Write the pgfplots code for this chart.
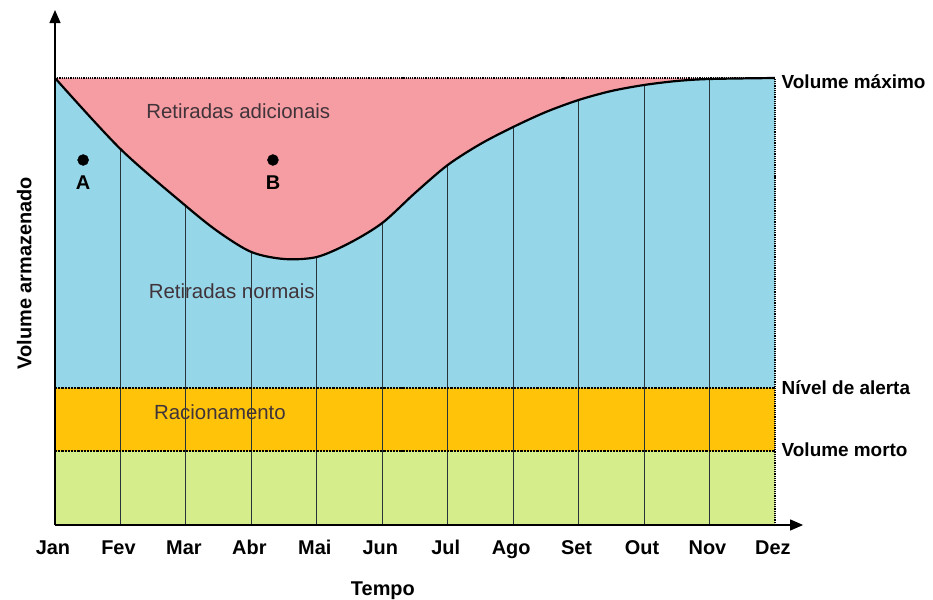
\documentclass[border=0pt]{standalone}
\usepackage{fontspec}
\setmainfont{Liberation Sans}
\usepackage{pgfplots}
\usepackage{pgfplotstable}
\pgfplotsset{compat=1.18}
\usetikzlibrary{arrows.meta}
\definecolor{pinkArea}{RGB}{245,157,162}
\definecolor{blueArea}{RGB}{150,214,233}
\definecolor{orangeArea}{RGB}{255,196,10}
\definecolor{greenArea}{RGB}{214,237,140}
\definecolor{innerText}{RGB}{64,52,58}
\definecolor{gridLine}{RGB}{40,52,58}
\newcommand{\lblbold}{\fontsize{20}{24}\bfseries\selectfont}
\newcommand{\sidebold}{\fontsize{19}{22}\bfseries\selectfont}
\newcommand{\lblreg}{\fontsize{20.5}{24}\selectfont}

% volume curve, months counted from Jan = 0
\pgfplotstableread{
x y
0 447
1 376
2 319
2.5 293
3 273
3.5 266
4 268
4.5 282
5 302
5.5 332
6 360
6.5 381
7 398
7.5 413
8 425
8.5 434
9 440
9.5 444
10 446
11 447
}\curve

\begin{document}
\begin{tikzpicture}
\useasboundingbox (-55bp,-75bp) rectangle (878bp,525bp);
\begin{axis}[x=65.45bp,y=1bp,xmin=0,xmax=11.43,ymin=0,ymax=515,
  at={(0,0)},anchor=south west,
  axis lines=left,axis on top,clip=false,
  axis line style={line width=1.2pt,-{Triangle[length=13bp,width=11bp]}},
  xtick={0,...,11},xticklabels={Jan,Fev,Mar,Abr,Mai,Jun,Jul,Ago,Set,Out,Nov,Dez},
  ytick=\empty,major tick length=0pt,
  xticklabel style={font=\lblbold,anchor=base,yshift=-29bp,xshift=-2bp}]
% zones, painted from top to bottom
\addplot[draw=none,fill=pinkArea] coordinates {(0,447) (11,447)} \closedcycle;
\addplot[draw=none,fill=blueArea,smooth,tension=0.5] table {\curve} \closedcycle;
\addplot[draw=none,fill=orangeArea] coordinates {(0,137) (11,137)} \closedcycle;
\addplot[draw=none,fill=greenArea] coordinates {(0,74) (11,74)} \closedcycle;
% month grid up to the curve
\addplot[ycomb,gridLine,line width=1pt,mark=none] coordinates {
  (1,376) (2,319) (3,273) (4,268) (5,302) (6,360) (7,398) (8,425) (9,440) (10,446)};
% limits
\addplot[densely dotted,line width=1.2pt,black] coordinates {(0,447) (11,447)};
\addplot[densely dotted,line width=2.2pt,black] coordinates {(0,137) (11,137)};
\addplot[densely dotted,line width=2.2pt,black] coordinates {(0,74) (11,74)};
\addplot[densely dotted,line width=1.2pt,black] coordinates {(11,0) (11,447)};
% volume curve
\addplot[black,line width=2.2pt,smooth,tension=0.5] table {\curve};
% points A and B
\addplot[only marks,mark=*,mark size=5.5bp,black] coordinates {(0.43,365) (3.33,365)};
\node[font=\lblbold] at (axis cs:0.43,342) {A};
\node[font=\lblbold] at (axis cs:3.33,342) {B};
% zone labels
\node[font=\lblreg,text=innerText] at (axis cs:2.8,414) {Retiradas adicionais};
\node[font=\lblreg,text=innerText] at (axis cs:2.7,234) {Retiradas normais};
\node[font=\lblreg,text=innerText] at (axis cs:2.52,113) {Racionamento};
\node[font=\sidebold,anchor=west,inner sep=0pt] at (axis cs:11.1,443) {Volume máximo};
\node[font=\sidebold,anchor=west,inner sep=0pt] at (axis cs:11.1,137) {Nível de alerta};
\node[font=\sidebold,anchor=west,inner sep=0pt] at (axis cs:11.1,75) {Volume morto};
% axis titles
\node[font=\lblbold] at (axis cs:5.01,-66) {Tempo};
\node[font=\lblbold,rotate=90] at (axis cs:-0.47,252) {Volume armazenado};
\end{axis}
\end{tikzpicture}
\end{document}
